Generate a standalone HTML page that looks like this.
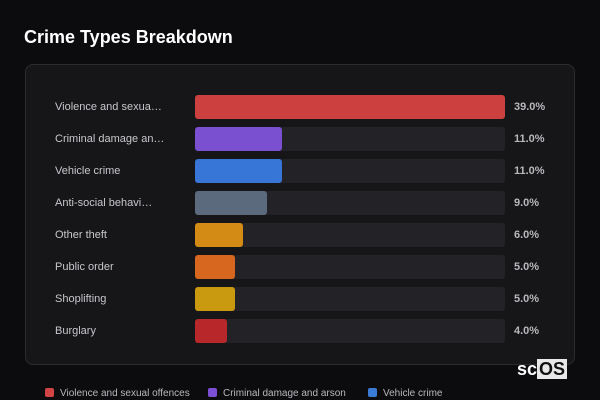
<!DOCTYPE html>
<html><head><meta charset="utf-8"><style>
body{margin:0;width:600px;height:400px;background:#0c0b0e;font-family:"Liberation Sans",sans-serif;overflow:hidden;position:relative}
.title{position:absolute;left:24px;top:27px;color:#fff;font-size:18px;font-weight:bold}
.panel{position:absolute;left:25px;top:64px;width:550px;height:301px;background:#161619;border:1px solid #2c2c30;border-radius:8px;box-sizing:border-box}
.lbl{position:absolute;left:55px;font-size:11px;color:#c8c8cc;white-space:nowrap}
.track{position:absolute;left:195px;width:310px;height:24px;background:#232327;border-radius:3px}
.bar{position:absolute;left:195px;height:24px;border-radius:3px}
.val{position:absolute;left:514px;font-size:11px;font-weight:bold;color:#b8b8bc}
.leg{position:absolute;top:388px;font-size:10px;color:#b8b8bc;white-space:nowrap}
.sw{display:inline-block;width:9px;height:9px;border-radius:2px;margin-right:6px;vertical-align:-1px}
.logo{position:absolute;left:517px;top:359px;font-size:18px;font-weight:bold;color:#fff}
.logo span{background:#e8e8e8;color:#111;padding:0 2px}
</style></head><body>
<div class="title">Crime Types Breakdown</div>
<div class="panel"></div>
<div id="chart"></div>
<div class="logo">sc<span>OS</span></div>
<div class="leg" style="left:45px"><span class="sw" style="background:#d04444"></span>Violence and sexual offences</div>
<div class="leg" style="left:208px"><span class="sw" style="background:#7b4fd6"></span>Criminal damage and arson</div>
<div class="leg" style="left:368px"><span class="sw" style="background:#3a7bd5"></span>Vehicle crime</div>
<script>
const categories=["Violence and sexua…","Criminal damage an…","Vehicle crime","Anti-social behavi…","Other theft","Public order","Shoplifting","Burglary"];
const values=[39,11,11,9,6,5,5,4];
const colors=["#cc4040","#7a4fd0","#3775d6","#5c6a7e","#d48b16","#d7661e","#c99a10","#b8282a"];
const maxV=39, barW=310, top0=95, step=32;
const c=document.getElementById('chart');
function x(v){return v/maxV*barW;}
categories.forEach((cat,i)=>{
  const y=top0+i*step;
  const l=document.createElement('div');l.className='lbl';l.style.top=(y+6)+'px';l.textContent=cat;
  
  
  const t=document.createElement('div');t.className='track';t.style.top=y+'px';
  
  
  const b=document.createElement('div');b.className='bar';b.style.top=y+'px';b.style.width=x(values[i])+'px';b.style.background=colors[i];
  
  
  const v=document.createElement('div');v.className='val';v.style.top=(y+6)+'px';v.textContent=values[i].toFixed(1)+'%';
  
  
  c.append(l,t,b,v);
});
</script>
</body></html>
